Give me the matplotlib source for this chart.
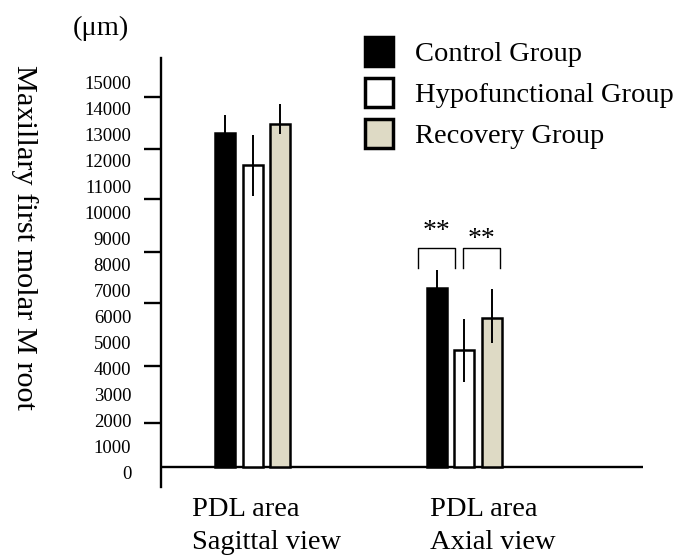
import matplotlib
matplotlib.use("Agg")
import matplotlib.pyplot as plt
import matplotlib.transforms as mtransforms
from matplotlib.patches import Patch
import numpy as np

plt.rcParams['font.family'] = ['Liberation Serif', 'DejaVu Serif']

# ---- data ----
groups = ["PDL area\nSagittal view", "PDL area\nAxial view"]
series = ["Control Group", "Hypofunctional Group", "Recovery Group"]
control = [12850, 6870]
hypo = [11600, 4500]
recovery = [13200, 5720]
control_err = [690, 710]
hypo_err_low = [1190, 1220]
hypo_err_high = [1180, 1180]
recovery_err_low = [380, 960]
recovery_err_high = [780, 1130]
ytick_values = list(range(0, 16000, 1000))
ytick_labels = [str(v) for v in ytick_values]
ytick_marks = [0, 1690, 3880, 6300, 8270, 10300, 12230, 14230]

colors = ["#000000", "#FFFFFF", "#DEDAC5"]

fig = plt.figure(figsize=(6.93, 5.60), dpi=100)
ax = fig.add_axes([161/693, (560-487)/560, (643-161)/693, 429/560])

x = np.arange(len(groups))
offsets = [-0.13, 0.0, 0.13]
width = 0.0946
vals = [control, hypo, recovery]
errs = [[control_err, control_err], [hypo_err_low, hypo_err_high],
        [recovery_err_low, recovery_err_high]]
for i in range(3):
    ax.bar(x + offsets[i], vals[i], width, color=colors[i], edgecolor="black",
           linewidth=1.8, zorder=2, label=series[i])
    ax.errorbar(x + offsets[i], vals[i], yerr=errs[i], fmt="none",
                ecolor="black", elinewidth=1.4, capsize=0, zorder=3)

ax.set_xlim(-0.4326, 1.846)
ax.set_ylim(-769, 15731)

# axes styling
for s in ["top", "right", "bottom"]:
    ax.spines[s].set_visible(False)
ax.spines["left"].set_linewidth(1.7)
ax.axhline(0, color="black", lw=1.7, zorder=1)
ax.set_xticks([])
ax.set_yticks(ytick_values)
ax.set_yticklabels(ytick_labels, fontsize=13.5)
ax.tick_params(axis="y", which="major", length=0, pad=21.5)
ax.set_yticks(ytick_marks, minor=True)
ax.tick_params(axis="y", which="minor", length=12.3, width=1.7, direction="out")
off = mtransforms.ScaledTranslation(0, -5/100, fig.dpi_scale_trans)
for lab in ax.get_yticklabels():
    lab.set_transform(lab.get_transform() + off)

# group labels
label_x = [-0.286, 0.839]
for gx, g in zip(label_x, groups):
    ax.text(gx, -1150, g, ha="left", va="top", fontsize=20.5, linespacing=1.45)

# significance brackets
def bracket(x0, x1, y_top, y_bot, text, ty):
    ax.plot([x0, x0, x1, x1], [y_bot, y_top, y_top, y_bot], color="black", lw=1.0, zorder=3)
    ax.text((x0 + x1) / 2, ty, text, ha="center", va="center", fontsize=20)

bracket(0.7825, 0.957, 8420, 7650, "**", 9050)
bracket(0.995, 1.170, 8420, 7650, "**", 8750)

# labels
fig.text(24/693, 1 - 237/560, "Maxillary first molar M root", rotation=270,
         ha="center", va="center", fontsize=21.8)
fig.text(73/693, 1 - 28/560, "(μm)", ha="left", va="center", fontsize=20.5)

handles = [Patch(facecolor=c, edgecolor="black", linewidth=2.5) for c in colors]
fig.legend(handles, series, loc="upper left", bbox_to_anchor=(365/693, 1 - 37/560),
           frameon=False, fontsize=20.5, handlelength=1.0, handleheight=1.2,
           handletextpad=0.74, labelspacing=0.38, borderpad=0, borderaxespad=0)

fig.savefig("out.png", dpi=100)
